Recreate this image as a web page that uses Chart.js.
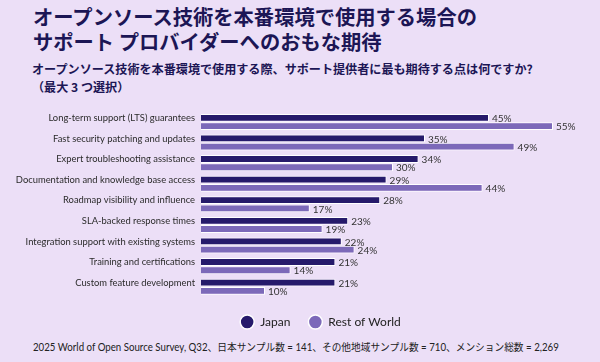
<!DOCTYPE html>
<html>
<head>
<meta charset="utf-8">
<script src="https://cdn.jsdelivr.net/npm/chart.js@4"></script>
<style>
  body { margin: 0; background: #ecdff7; width: 600px; height: 362px; overflow: hidden; position: relative; font-family: "Noto Sans CJK JP", sans-serif; }
  h1 { position: absolute; left: 33px; top: 4px; margin: 0; font-size: 20.3px; line-height: 25px; color: #1c1655; font-weight: 700; }
  h2 { position: absolute; left: 32px; top: 60px; margin: 0; font-size: 12.1px; line-height: 18px; color: #1c1655; font-weight: 700; }
  #wrap { position: absolute; left: 0; top: 100px; width: 600px; height: 237px; }
  .note { position: absolute; left: 33px; top: 339px; font-family: Lato, "Noto Sans CJK JP", sans-serif; font-size: 10.5px; color: #222; white-space: nowrap; transform: scaleX(0.923); transform-origin: left top; }
</style>
</head>
<body>
<h1>オープンソース技術を本番環境で使用する場合の<br>サポート プロバイダーへのおもな期待</h1>
<h2>オープンソース技術を本番環境で使用する際、サポート提供者に最も期待する点は何ですか?<br>（最大 3 つ選択）</h2>
<div id="wrap"><canvas id="myChart" width="600" height="237"></canvas></div>
<div class="note">2025 World of Open Source Survey, Q32、日本サンプル数 = 141、その他地域サンプル数 = 710、メンション総数 = 2,269</div>
<script>
const categories = [
  'Long-term support (LTS) guarantees',
  'Fast security patching and updates',
  'Expert troubleshooting assistance',
  'Documentation and knowledge base access',
  'Roadmap visibility and influence',
  'SLA-backed response times',
  'Integration support with existing systems',
  'Training and certifications',
  'Custom feature development'
];
const japan = [45, 35, 34, 29, 28, 23, 22, 21, 21];
const restOfWorld = [55, 49, 30, 44, 17, 19, 24, 14, 10];

// value labels at the end of every bar
const valueLabels = {
  id: 'valueLabels',
  afterDatasetsDraw(chart) {
    const ctx = chart.ctx;
    ctx.save();
    ctx.font = '10px Lato';
    ctx.fillStyle = '#333';
    ctx.textBaseline = 'middle';
    chart.data.datasets.forEach((ds, i) => {
      chart.getDatasetMeta(i).data.forEach((bar, j) => {
        ctx.fillText(ds.data[j] + '%', bar.x + 3, bar.y + 1);
      });
    });
    ctx.restore();
  }
};

// the legend sits a bit right of the page centre in the original
const moveLegend = {
  id: 'moveLegend',
  afterLayout(chart) {
    const lg = chart.legend;
    lg.left += 28; lg.right += 28;
    lg.top += 1; lg.bottom += 1;
  }
};

let chart = document.getElementById('myChart').getContext('2d');
let myChart = new Chart(chart, {
  type: 'bar',
  data: {
    labels: categories,
    datasets: [
      { label: 'Japan', data: japan, backgroundColor: '#261a6b', borderColor: '#ffffff', borderWidth: 1 },
      { label: 'Rest of World', data: restOfWorld, backgroundColor: '#7c69b9', borderColor: '#ffffff', borderWidth: 1 }
    ]
  },
  options: {
    indexAxis: 'y',
    responsive: false,
    animation: false,
    categoryPercentage: 0.8,
    barPercentage: 0.95,
    layout: { padding: { top: 1, right: 15, left: 0, bottom: 0 } },
    scales: {
      x: { display: false, min: 0, max: 60 },
      y: {
        grid: { display: false, drawTicks: false },
        border: { display: false },
        ticks: { color: '#2b2b2b', padding: 6, labelOffset: -4, font: { family: 'Lato', size: 9.4 } },
        afterFit(scale) { scale.width = 201; }
      }
    },
    plugins: {
      tooltip: { enabled: false },
      legend: {
        position: 'bottom',
        labels: {
          usePointStyle: true,
          pointStyle: 'circle',
          pointStyleWidth: 14,
          boxHeight: 10,
          padding: 18,
          color: '#222',
          font: { family: 'Lato', size: 12 },
          generateLabels(c) {
            return c.data.datasets.map((ds, i) => ({
              text: ds.label,
              fillStyle: ds.backgroundColor,
              strokeStyle: '#ffffff',
              lineWidth: 1.5,
              pointStyle: 'circle',
              fontColor: '#222',
              datasetIndex: i
            }));
          }
        }
      }
    }
  },
  plugins: [valueLabels, moveLegend]
});
</script>
</body>
</html>
